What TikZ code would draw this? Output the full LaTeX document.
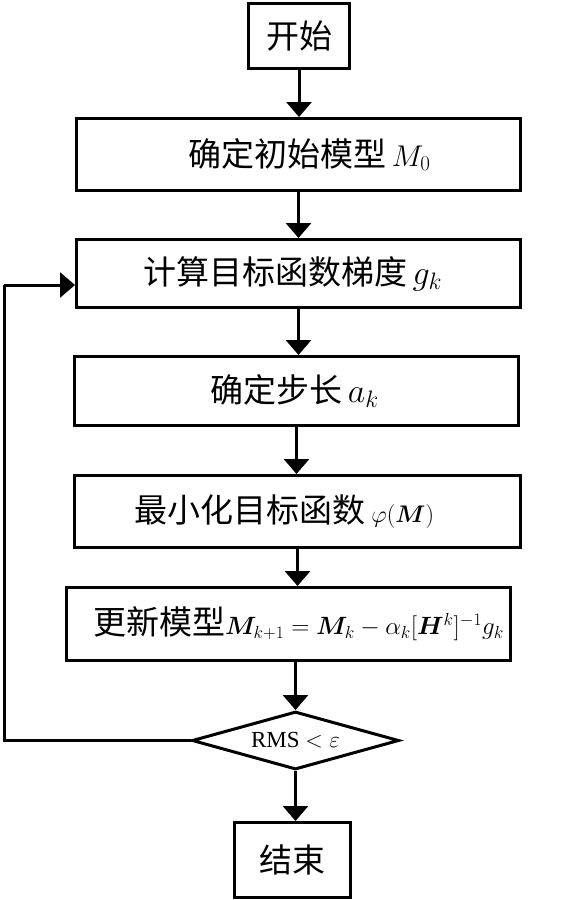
\RequirePackage{fix-cm}
\documentclass[tikz,border=0pt]{standalone}
\usepackage{amsmath,bm}
\usepackage{fontspec}
\newfontfamily\cjk{Noto Sans CJK SC}
\newfontfamily\tms{Liberation Serif}
\usetikzlibrary{arrows.meta,shapes.geometric}
\newcommand{\mth}[1]{{\fontsize{34}{38}\selectfont$#1$}}
\newcommand{\mthm}[1]{{\fontsize{30}{34}\selectfont$#1$}}
\newcommand{\mths}[1]{{\fontsize{24}{28}\selectfont$#1$}}
\newcommand{\mthf}[1]{{\fontsize{25}{28}\selectfont$#1$}}
\begin{document}
\begin{tikzpicture}[x=1pt,y=-1pt,
  box/.style={draw,line width=3pt,inner sep=0pt,font=\cjk\fontsize{33}{36}\selectfont},
  decision/.style={draw,diamond,line width=3pt,inner sep=0pt,aspect=3.5,font=\tms\fontsize{23}{26}\selectfont},
  arr/.style={line width=3pt,-{Triangle[length=15pt,width=25pt]}},
  loopline/.style={line width=3pt}]
\useasboundingbox (0,0) rectangle (577,900);

\node[box,minimum width=101pt,minimum height=65pt] (start) at (299,36) {开始};
\node[box,minimum width=444pt,minimum height=72pt] (m0) at (298.5,154.5) {\hspace*{22pt}确定初始模型\,\mthm{M_0}};
\node[box,minimum width=444pt,minimum height=68pt] (grad) at (298.5,273.5) {计算目标函数梯度\,\mth{g_k}\hspace*{12pt}};
\node[box,minimum width=444pt,minimum height=69pt] (stepbox) at (296.5,391) {确定步长\,\mth{a_k}\hspace*{4pt}};
\node[box,minimum width=446pt,minimum height=72pt] (minbox) at (297.5,511.5) {最小化目标函数\,\mths{\varphi(\bm{M})}\hspace*{26pt}};
\node[box,minimum width=444pt,minimum height=73pt] (update) at (288.5,624) {\hspace*{20pt}更新模型\mthf{\bm{M}_{k+1} = \bm{M}_k - \alpha_k[\bm{H}^k]^{-1}g_k}};
\node[decision,minimum width=207pt,minimum height=58pt] (dia) at (295.5,740.5) {RMS $<\varepsilon$};
\node[box,minimum width=116pt,minimum height=75pt] (end) at (292.5,860) {结束};

\draw[arr] (start.south) -- (start.south |- m0.north);
\draw[arr] (m0.south) -- (m0.south |- grad.north);
\draw[arr] (grad.south) -- (grad.south |- stepbox.north);
\draw[arr] (stepbox.south) -- (stepbox.south |- minbox.north);
\draw[arr] (minbox.south) -- (minbox.south |- update.north);
\draw[arr] (dia.north |- update.south) -- (dia.north);
\draw[arr] (dia.south) -- (dia.south |- end.north);

\coordinate (c1) at (4,740.5);
\coordinate (c2) at (4,285);
\draw[loopline] (dia.west) -- (c1) -- (c2);
\draw[arr] (c2) -- (c2 -| grad.west);
\end{tikzpicture}
\end{document}
